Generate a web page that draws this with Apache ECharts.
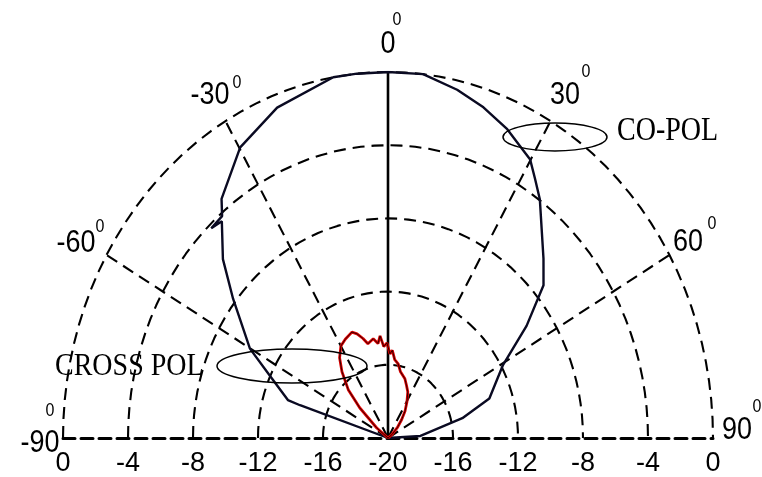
<!DOCTYPE html>
<html><head><meta charset="utf-8">
<script src="https://cdn.jsdelivr.net/npm/echarts@6/dist/echarts.min.js"></script>
<style>html,body{margin:0;padding:0;background:#fff}#c{width:762px;height:477px}</style>
</head><body><div id="c"></div>
<script>
// ---- chart data ----
const rMin = -20;              // dB at the centre
const rMax = 0;                // dB at the outer ring
const ringLevels = [-16, -12, -8, -4, 0];
const spokeAngles = [-60, -30, 30, 60];
const radiusTickLabels = ['0', '-4', '-8', '-12', '-16', '-20', '-16', '-12', '-8', '-4', '0'];

const coPolAngles = [-90, -73, -71.7, -71.4, -65.5, -60.1, -51.4, -46.1, -40.8, -43.5, -40.1, -38.1, -29.8, -20.7, -9.7, -5.5, 0, 6.2, 12.6, 18.0, 23.5, 29.9, 32.6, 35.6, 44.3, 48.9, 54.3, 60.7, 70.9, 76.7, 86.8, 90];
const coPolGain   = [-20, -20, -14.3, -13.5, -12.15, -10.2, -7.8, -5.9, -4.35, -4.2, -4.15, -3.4, -1.7, -0.7, 0, 0, 0, 0, -0.5, -1.0, -1.6, -2.45, -3.2, -3.95, -6.3, -7.3, -9.5, -11.9, -13.4, -15.3, -18.0, -20];

const crossPolAngles = [-90, -60, -51.5, -46.5, -42.8, -38, -34.2, -30, -26, -21, -18.5, -15.8, -13.5, -12.4, -9.5, -6.8, -5, -3, -0.7, 1.5, 3.2, 5.5, 8.8, 12, 17.8, 21.5, 25.8, 30.5, 35.5, 40, 45.5, 52, 60, 90];
const crossPolGain   = [-20, -20, -19.1, -17.6, -16.4, -15.4, -14.7, -14.2, -14.0, -13.8, -14.0, -14.35, -14.7, -14.8, -14.5, -14.8, -14.4, -15.0, -14.8, -15.4, -15.2, -15.7, -15.9, -16.3, -16.6, -16.9, -17.2, -17.7, -18.2, -18.7, -19.2, -19.7, -20, -20];

// ---- helpers ----
const span = rMax - rMin;
function toXY(angle, gain) {
  const r = Math.max(0, Math.min(span, gain - rMin));
  const t = angle * Math.PI / 180;
  return [r * Math.sin(t), r * Math.cos(t)];
}
function pairs(angles, gains) { return angles.map((a, i) => toXY(a, gains[i])); }

const series = [];
const dash = [12, 7];
ringLevels.forEach(lv => {
  const pts = [];
  for (let a = -90; a <= 90; a += 3) pts.push(toXY(a, lv));
  series.push({ type: 'line', data: pts, symbol: 'none', silent: true, z: 1,
    lineStyle: { color: '#000', width: 2.1, type: dash } });
});
spokeAngles.forEach(a => {
  series.push({ type: 'line', data: [toXY(a, rMin), toXY(a, rMax)], symbol: 'none', silent: true, z: 1,
    lineStyle: { color: '#000', width: 2.1, type: dash } });
});
series.push({ type: 'line', data: [toXY(0, rMin), toXY(0, rMax)], symbol: 'none', silent: true, z: 2,
  lineStyle: { color: '#000', width: 2.6 } });

series.push({ name: 'CO-POL', type: 'line', data: pairs(coPolAngles, coPolGain), symbol: 'none', z: 5,
  lineStyle: { color: '#0a0a22', width: 2.4 } });
series.push({ name: 'CROSS POL', type: 'line', data: pairs(crossPolAngles, crossPolGain), symbol: 'none', z: 6,
  lineStyle: { color: '#e00000', width: 2.8 } });
series.push({ name: 'CROSS POL b', type: 'line', data: pairs(crossPolAngles, crossPolGain), symbol: 'none', z: 7,
  lineStyle: { color: '#300000', width: 1 } });

const labelFont = 'Liberation Sans, Arial, sans-serif';
const angleLabelSpecs = [
  { t: '0',   x: 388, y: 44,  sx: 397, sy: 20 },
  { t: '-30', x: 210, y: 95,  sx: 237, sy: 83 },
  { t: '30',  x: 565, y: 95,  sx: 586, sy: 72 },
  { t: '-60', x: 76,  y: 243, sx: 100, sy: 227 },
  { t: '60',  x: 688, y: 242, sx: 712, sy: 224 },
  { t: '-90', x: 40,  y: 443, sx: 50,  sy: 411 },
  { t: '90',  x: 737, y: 430, sx: 757, sy: 407 }
];
const graphic = [];
angleLabelSpecs.forEach(s => {
  graphic.push({ type: 'text', x: s.x, y: s.y, scaleY: 1.15, z: 20,
    style: { text: s.t, fontSize: 27, fontFamily: labelFont, fill: '#000', align: 'center', verticalAlign: 'middle' } });
  graphic.push({ type: 'text', x: s.sx, y: s.sy, scaleY: 1.15, z: 20,
    style: { text: '0', fontSize: 16, fontFamily: labelFont, fill: '#000', align: 'center', verticalAlign: 'middle' } });
});
graphic.push({ type: 'ellipse', shape: { cx: 555, cy: 137, rx: 52, ry: 14 }, z: 20,
  style: { fill: 'none', stroke: '#000', lineWidth: 1.5 } });
graphic.push({ type: 'ellipse', shape: { cx: 292, cy: 366, rx: 75, ry: 17 }, z: 20,
  style: { fill: 'none', stroke: '#000', lineWidth: 1.5 } });
graphic.push({ type: 'text', x: 617, y: 131, scaleY: 1.2, z: 20,
  style: { text: 'CO-POL', fontSize: 28, fontFamily: 'Liberation Serif, Times New Roman, serif', fill: '#000', align: 'left', verticalAlign: 'middle' } });
graphic.push({ type: 'text', x: 55, y: 367, scaleY: 1.15, z: 20,
  style: { text: 'CROSS POL', fontSize: 28, fontFamily: 'Liberation Serif, Times New Roman, serif', fill: '#000', align: 'left', verticalAlign: 'middle' } });

const chart = echarts.init(document.getElementById('c'), null, { renderer: 'canvas' });
chart.setOption({
  backgroundColor: '#fff',
  animation: false,
  grid: { left: 63, right: 49, top: 72, bottom: 37, containLabel: false },
  xAxis: {
    type: 'value', min: -span, max: span, interval: 4,
    splitLine: { show: false }, axisTick: { show: false },
    axisLine: { show: true, lineStyle: { color: '#000', width: 3, type: [12, 6] } },
    axisLabel: { margin: 12, fontSize: 27, fontFamily: labelFont, color: '#000',
      showMinLabel: true, showMaxLabel: true,
      formatter: v => radiusTickLabels[Math.round((v + span) / 4)] }
  },
  yAxis: { type: 'value', min: 0, max: span, show: false, splitLine: { show: false } },
  series: series,
  graphic: graphic
});
</script></body></html>
